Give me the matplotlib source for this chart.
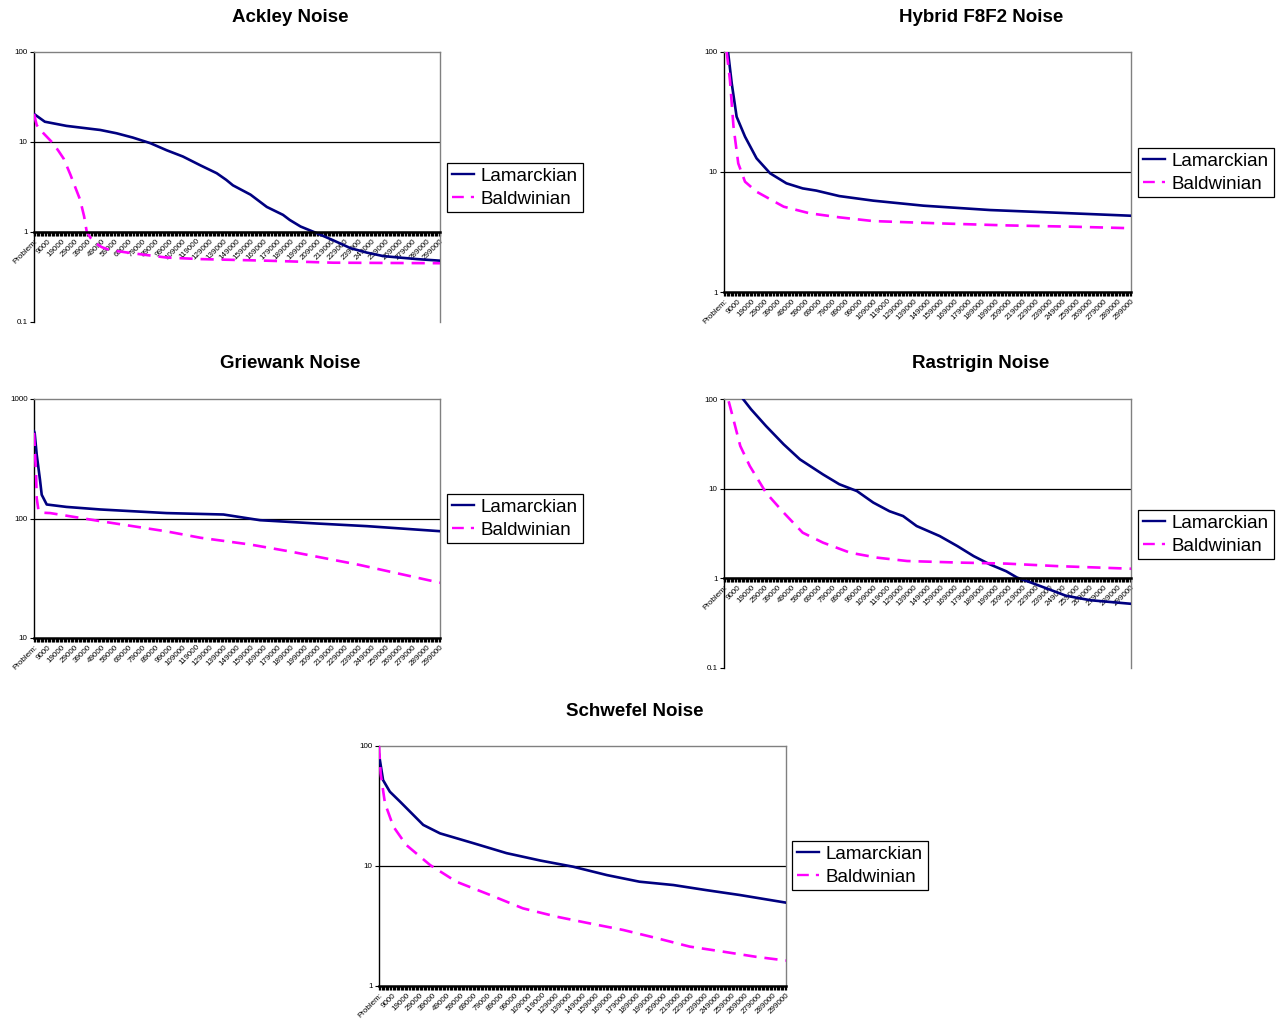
import matplotlib
matplotlib.use("Agg")
import matplotlib.pyplot as plt
from matplotlib.ticker import FixedLocator, FixedFormatter, NullLocator

plt.rcParams['font.family'] = ['Liberation Sans', 'DejaVu Sans']

W, H = 1278, 1027

# ---------------- data (x = category index, 0 = "Problem:", 10 = "9000", ...) -------------
tick_labels = ["Problem:", "9000", "19000", "29000", "39000", "49000", "59000", "69000",
               "79000", "89000", "99000", "109000", "119000", "129000", "139000", "149000",
               "159000", "169000", "179000", "189000", "199000", "209000", "219000", "229000",
               "239000", "249000", "259000", "269000", "279000", "289000", "299000"]
tick_pos = [0, 10, 20, 30, 40, 50, 60, 70, 80, 90, 100, 110, 120, 130, 140, 150,
            160, 170, 180, 190, 200, 210, 220, 230, 240, 250, 260, 270, 280, 290, 300]
n_categories = 301

ackley_lam_x = [0, 8, 24, 49, 61, 73, 86, 98, 110, 123, 135, 142, 147, 160, 172, 184, 189,
                197, 209, 221, 234, 246, 258, 270, 283, 300]
ackley_lam_y = [20.5, 16.8, 15.1, 13.6, 12.5, 11.2, 9.7, 8.1, 6.9, 5.5, 4.5, 3.8, 3.3, 2.6,
                1.9, 1.55, 1.36, 1.15, 0.97, 0.81, 0.66, 0.59, 0.54, 0.52, 0.50, 0.48]
ackley_bal_x = [0, 2, 7, 14, 18, 22, 27, 31, 34, 37, 39, 42, 45, 50, 56, 73, 98, 123, 172,
                221, 300]
ackley_bal_y = [20.5, 15.4, 12.5, 9.7, 8.0, 6.5, 4.3, 3.0, 2.3, 1.5, 1.0, 0.85, 0.76,
                0.68, 0.63, 0.58, 0.52, 0.50, 0.48, 0.456, 0.45]

hybrid_lam_x = [0, 3, 5.7, 9.3, 15.5, 24, 34, 46, 58, 68, 85, 110, 147, 196, 245, 300]
hybrid_lam_y = [170, 100, 54.8, 28.9, 19.7, 13.0, 9.75, 8.05, 7.3, 7.0, 6.3, 5.77, 5.24,
                4.82, 4.58, 4.32]
hybrid_bal_x = [0, 2, 4.4, 7, 10.5, 15.5, 24, 44, 63, 85, 110, 159, 208, 257, 300]
hybrid_bal_y = [150, 100, 58, 23.9, 11.8, 8.3, 6.85, 5.14, 4.53, 4.19, 3.9, 3.73, 3.59,
                3.5, 3.4]

griewank_lam_x = [0, 0.5, 2, 4.4, 5.7, 9.4, 24, 49, 98, 140, 167, 209, 246, 300]
griewank_lam_y = [537, 520, 343, 212, 158, 131, 125, 119, 111, 108, 96.8, 90.8, 86.3, 78.3]
griewank_bal_x = [0, 1.5, 2, 3.2, 5, 12, 49, 98, 123, 160, 189, 240, 300]
griewank_bal_y = [521, 240, 148, 119, 112, 111, 95, 78, 69, 60.5, 53, 41, 29]

rastrigin_lam_x = [0, 14, 20, 31, 44, 56, 73, 85, 98, 110, 122, 132, 142, 159, 172, 184,
                   196, 208, 216, 226, 240, 252, 270, 300]
rastrigin_lam_y = [250, 100, 76.6, 49.9, 31.2, 21.2, 14.4, 11.2, 9.4, 7.0, 5.6, 4.95, 3.83,
                   2.96, 2.29, 1.77, 1.43, 1.2, 1.02, 0.9, 0.75, 0.64, 0.57, 0.52]
rastrigin_bal_x = [0, 3, 5.7, 12, 19, 31, 44, 58, 73, 93, 113, 135, 172, 208, 245, 300]
rastrigin_bal_y = [160, 100, 70, 29.9, 17.9, 9.0, 5.4, 3.23, 2.5, 1.93, 1.70, 1.56, 1.5,
                   1.46, 1.37, 1.28]

schwefel_lam_x = [0, 3, 8, 15.5, 32.6, 45, 69.5, 94, 119, 143, 168, 192, 217, 241, 266, 300]
schwefel_lam_y = [85, 52, 41.6, 34.4, 22, 18.7, 15.5, 12.8, 11.1, 9.87, 8.4, 7.4, 6.94,
                  6.3, 5.73, 4.95]
schwefel_bal_x = [0, 1.2, 4.4, 10.6, 20, 37.6, 57, 82, 106, 131, 155, 180, 205, 229, 254,
                  278, 300]
schwefel_bal_y = [100, 59, 33.3, 21.3, 15, 10.2, 7.4, 5.73, 4.44, 3.78, 3.33, 2.93, 2.5,
                  2.13, 1.93, 1.75, 1.63]

series_names = ["Lamarckian", "Baldwinian"]
lam_color = "#000080"
bal_color = "#FF00FF"

# ---------------- layout (pixels) -------------
panels = [
    ("Ackley Noise", (34, 52, 440, 322), (0.1, 100), [0.1, 1, 10, 100], 1,
     (290, 18), (447, 163), ackley_lam_x, ackley_lam_y, ackley_bal_x, ackley_bal_y),
    ("Hybrid F8F2 Noise", (724, 52, 1131, 292), (1, 100), [1, 10, 100], None,
     (981, 18), (1138, 148), hybrid_lam_x, hybrid_lam_y, hybrid_bal_x, hybrid_bal_y),
    ("Griewank Noise", (34, 399, 440, 638), (10, 1000), [10, 100, 1000], None,
     (290, 364), (447, 494), griewank_lam_x, griewank_lam_y, griewank_bal_x, griewank_bal_y),
    ("Rastrigin Noise", (724, 399, 1131, 668), (0.1, 100), [0.1, 1, 10, 100], 1,
     (981, 364), (1138, 510), rastrigin_lam_x, rastrigin_lam_y, rastrigin_bal_x, rastrigin_bal_y),
    ("Schwefel Noise", (379, 746, 786, 986), (1, 100), [1, 10, 100], None,
     (635, 711), (792, 841), schwefel_lam_x, schwefel_lam_y, schwefel_bal_x, schwefel_bal_y),
]

fig = plt.figure(figsize=(W / 100, H / 100), dpi=100)
fig.patch.set_facecolor("white")

for (title, (l, t, r, b), ylim, yticks, cross, tpos, lpos,
     lx, ly, bx, by) in panels:
    ax = fig.add_axes([l / W, 1 - b / H, (r - l) / W, (b - t) / H])
    ax.set_yscale("log")
    ax.set_ylim(*ylim)
    ax.set_xlim(0, n_categories - 1)

    for v in yticks[1:-1]:
        ax.axhline(v, color="black", lw=0.9, zorder=1)

    ax.plot(lx, ly, color=lam_color, lw=1.9, solid_joinstyle="round", zorder=3,
            label=series_names[0])
    ax.plot(bx, by, color=bal_color, lw=1.9, dashes=(5, 3), zorder=3,
            label=series_names[1])

    for s in ("top", "right"):
        ax.spines[s].set_color("#808080")
        ax.spines[s].set_linewidth(1.0)
    ax.spines["left"].set_color("black")
    ax.spines["left"].set_linewidth(1.0)
    ax.spines["bottom"].set_color("black")
    ax.spines["bottom"].set_linewidth(1.8)
    if cross is not None:
        ax.spines["bottom"].set_position(("data", cross))
    ax.spines["bottom"].set_zorder(4)

    ax.yaxis.set_major_locator(FixedLocator(yticks))
    ax.yaxis.set_major_formatter(FixedFormatter([("%g" % v) for v in yticks]))
    ax.yaxis.set_minor_locator(NullLocator())
    ax.tick_params(axis="y", which="major", direction="out", length=3, width=0.8,
                   labelsize=5.8, pad=1.5, colors="black")

    ax.xaxis.set_major_locator(FixedLocator(tick_pos))
    ax.xaxis.set_major_formatter(FixedFormatter(tick_labels))
    ax.xaxis.set_minor_locator(FixedLocator(list(range(n_categories))))
    ax.tick_params(axis="x", which="both", direction="out", length=3, width=0.9,
                   colors="black", labelsize=5.8, pad=1)
    for lab in ax.get_xticklabels():
        lab.set_rotation(45)
        lab.set_ha("right")
        lab.set_va("top")
        lab.set_rotation_mode("anchor")

    fig.text(tpos[0] / W, 1 - tpos[1] / H, title, ha="center", va="center",
             fontsize=13.5, fontweight="bold")

    leg = ax.legend(loc="upper left", bbox_to_anchor=(lpos[0] / W, 1 - lpos[1] / H),
                    bbox_transform=fig.transFigure, borderaxespad=0, frameon=True,
                    fancybox=False, edgecolor="black", framealpha=1, fontsize=13.5,
                    handlelength=1.2, handletextpad=0.35, borderpad=0.25,
                    labelspacing=0.3)
    leg.get_frame().set_linewidth(0.9)
    for h in leg.get_lines():
        h.set_linewidth(1.7)

fig.savefig("out.png", dpi=100, facecolor="white")
